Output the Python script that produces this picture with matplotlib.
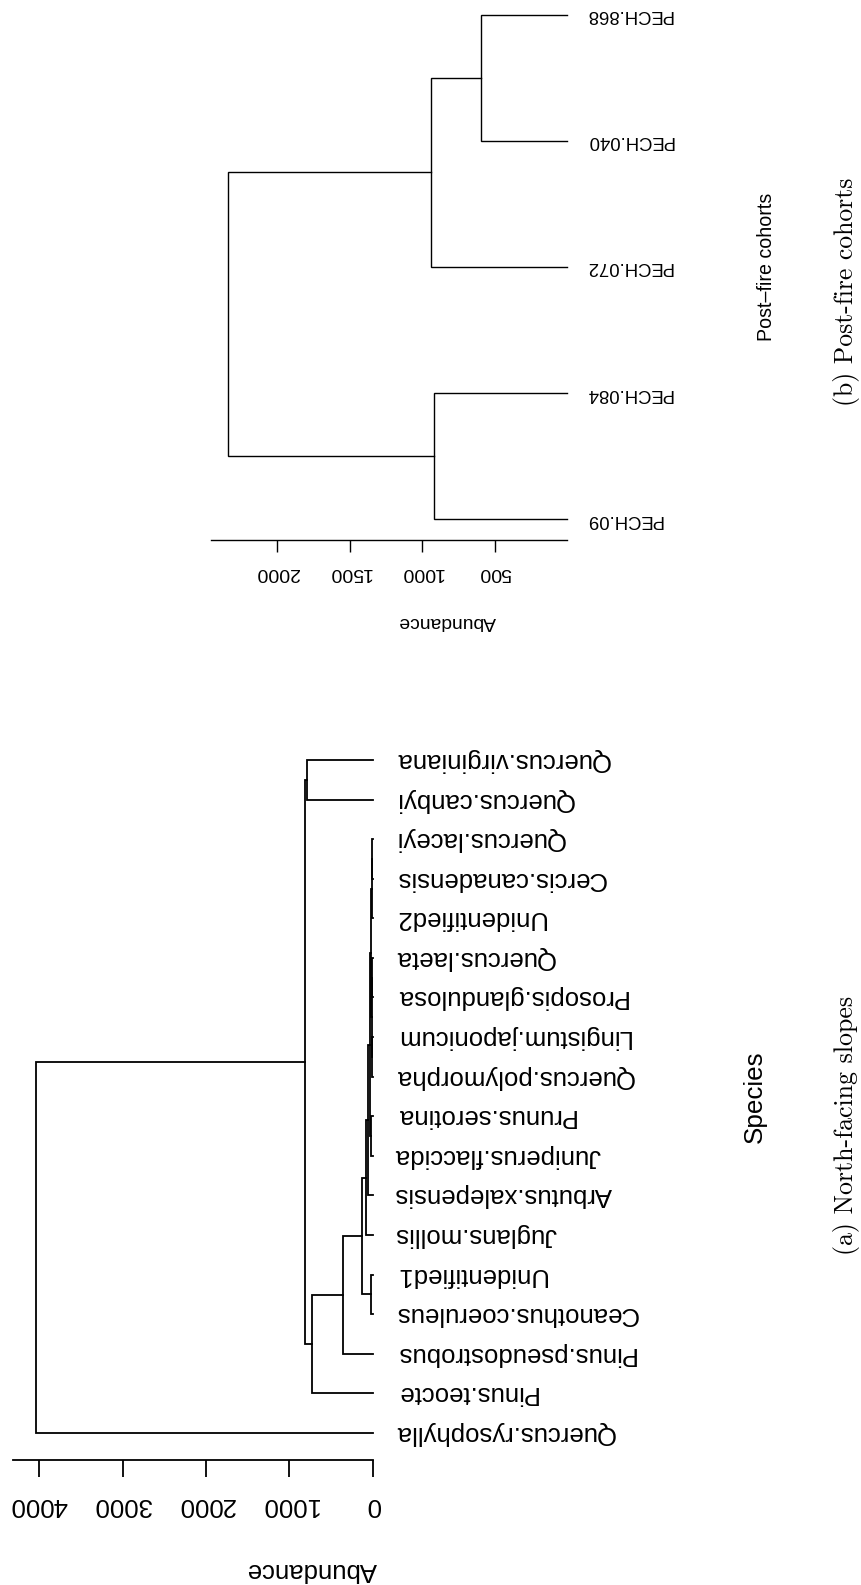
import matplotlib
matplotlib.use('Agg')
import matplotlib.pyplot as plt

plt.rcParams['font.family'] = ['Liberation Sans', 'DejaVu Sans']

W, H, DPI = 862, 1585, 100

# ---------------- data ----------------
# Panel (a): species, listed bottom (index 0) to top
species = ['Quercus.rysophylla', 'Pinus.teocte', 'Pinus.pseudostrobus',
           'Ceanothus.coeruleus', 'Unidentified1', 'Juglans.mollis',
           'Arbutus.xalepensis', 'Juniperus.flaccida', 'Prunus.serotina',
           'Quercus.polymorpha', 'Lingistum.japonicum', 'Prosopis.glandulosa',
           'Quercus.laeta', 'Unidentified2', 'Cercis.canadensis',
           'Quercus.laceyi', 'Quercus.canbyi', 'Quercus.virginiana']
# merges: indices of children (leaves 0..n-1, merges n, n+1, ...)
species_merges = [(15, 14), (18, 13), (12, 11), (10, 9), (20, 21), (19, 22),
                  (8, 7), (23, 24), (25, 6), (26, 5), (4, 3), (27, 28),
                  (29, 2), (30, 1), (16, 17), (31, 32), (33, 0)]
species_heights = [10, 14, 6, 8, 12, 20, 15, 30, 52, 84, 24, 125, 352, 731,
                   791, 806, 4037]
species_ticks = [0, 1000, 2000, 3000, 4000]

# Panel (b): post-fire cohorts, bottom to top
cohorts = ['PECH.09', 'PECH.084', 'PECH.072', 'PECH.040', 'PECH.868']
cohort_merges = [(3, 4), (2, 5), (0, 1), (6, 7)]
cohort_heights = [595, 939, 916, 2339]
cohort_ticks = [500, 1000, 1500, 2000]


def px_axes(fig, left, top, right, bottom):
    return fig.add_axes([left / W, 1 - bottom / H, (right - left) / W,
                         (bottom - top) / H])


def draw_dendro(ax, labels, merges, heights, lw, fs, label_off):
    n = len(labels)
    pos = list(range(n))
    hts = [0.0] * n
    for (a, b), h in zip(merges, heights):
        ax.plot([hts[a], h, h, hts[b]], [pos[a], pos[a], pos[b], pos[b]],
                color='black', lw=lw, clip_on=False, solid_joinstyle='miter')
        pos.append((pos[a] + pos[b]) / 2)
        hts.append(h)
    for i, lab in enumerate(labels):
        ax.annotate(lab, xy=(0, i), xytext=(label_off, 0),
                    textcoords='offset points', rotation=180,
                    ha='left', va='center', fontsize=fs,
                    annotation_clip=False)


def style_axis(ax, xmax, ylim, ticks, lw, fs, tlen, pad):
    ax.set_xlim(xmax, 0)
    ax.set_ylim(*ylim)
    for s in ('left', 'top', 'right'):
        ax.spines[s].set_visible(False)
    ax.spines['bottom'].set_linewidth(lw)
    ax.set_yticks([])
    ax.set_xticks(ticks)
    ax.set_xticklabels([str(t) for t in ticks], rotation=180, fontsize=fs)
    ax.tick_params(axis='x', direction='out', length=tlen, width=lw, pad=pad)
    ax.patch.set_alpha(0)


fig = plt.figure(figsize=(W / DPI, H / DPI), dpi=DPI)

# ---- Panel (a) ----
axa = px_axes(fig, 13, 740, 372.7, 1460)
draw_dendro(axa, species, species_merges, species_heights, 1.3, 18.5, 16)
style_axis(axa, 4313, (-0.682, 17.504), species_ticks, 1.3, 18.5, 12, 12)

# ---- Panel (b) ----
axb = px_axes(fig, 210.7, 0, 567, 540)
draw_dendro(axb, cohorts, cohort_merges, cohort_heights, 1.0, 13.3, 13.5)
style_axis(axb, 2461, (-0.164, 4.115), cohort_ticks, 1.0, 14, 8.4, 8.6)

# ---- axis titles and captions ----
def ftext(x, y, s, **kw):
    fig.text(x / W, 1 - y / H, s, ha='center', va='center', **kw)

ftext(312, 1570, 'Abundance', rotation=180, fontsize=18.5)
ftext(447, 621, 'Abundance', rotation=180, fontsize=13.9)
ftext(755, 1097, 'Species', rotation=90, fontsize=18.7)
ftext(767, 267, 'Post\u2013fire cohorts', rotation=90, fontsize=14.1)
serif = ['cmr10', 'DejaVu Serif']
ftext(847, 1125, '(a) North-facing slopes', rotation=90, fontsize=18.6,
      family=serif)
ftext(847, 292, '(b) Post-fire cohorts', rotation=90, fontsize=18.5,
      family=serif)

fig.savefig('out.png', dpi=DPI)
